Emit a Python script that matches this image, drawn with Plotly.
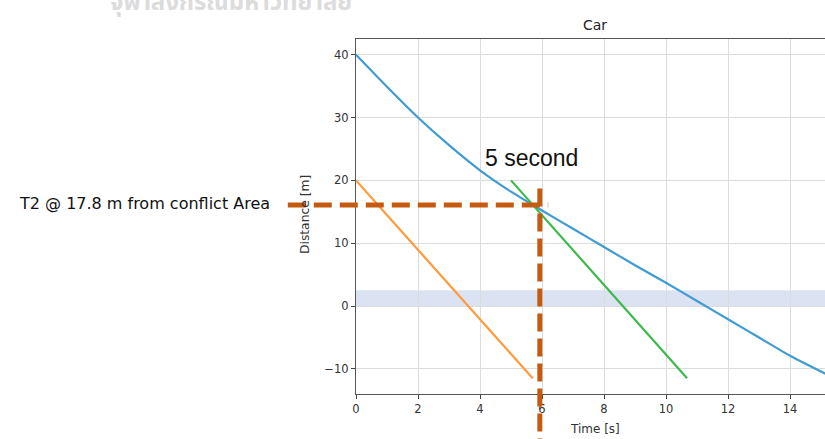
import plotly.graph_objects as go

# ---------------- data ----------------
title_text = "Car"
x_label = "Time [s]"
y_label = "Distance [m]"

car_time = [0, 1, 2, 3, 4, 5, 6, 7, 8, 9, 10, 11, 12, 13, 14, 15.2]
car_distance = [40, 34.9, 30.0, 25.6, 21.6, 18.2, 15.2, 12.3, 9.4, 6.5, 3.7, 0.8, -2.1, -5.0, -7.9, -10.9]

t1_time = [0, 5.7]
t1_distance = [20, -11.5]

t2_time = [5.0, 10.68]
t2_distance = [20, -11.5]

conflict_band = [0, 2.5]

x_ticks = [0, 2, 4, 6, 8, 10, 12, 14]
y_ticks = [-10, 0, 10, 20, 30, 40]

marker_time = 5.93        # vertical dashed marker (s)
marker_distance = 16.1    # horizontal dashed marker (m)
h_marker_span = [-2.2, 6.2]     # time extent of horizontal marker
v_marker_span = [18.7, -21.5]   # distance extent of vertical marker

label_t2 = "T2 @ 17.8 m from conflict Area"
label_time = "5 second"
watermark = "จุฬาลงกรณ์มหาวิทยาลัย"

# ---------------- geometry ----------------
W, H = 825, 439
L, T, B, R = 356, 39, 45, 0
x_range = [0, (W - L - R) / 31.0]
y_range = [-14.0, 42.5]


def px_x(t):
    return (t - x_range[0]) / (x_range[1] - x_range[0])


def px_y(d):
    return (d - y_range[0]) / (y_range[1] - y_range[0])


def paper_from_pixel_x(p):
    return (p - L) / (W - L - R)


def paper_from_pixel_y(p):
    return (H - B - p) / (H - T - B)


fig = go.Figure()

fig.add_trace(go.Scatter(x=car_time, y=car_distance, mode="lines",
                         line=dict(color="#3f9bd2", width=2.2, shape="spline", smoothing=0.6),
                         showlegend=False, hoverinfo="skip"))
fig.add_trace(go.Scatter(x=t1_time, y=t1_distance, mode="lines",
                         line=dict(color="#ff9a3a", width=2.2),
                         showlegend=False, hoverinfo="skip"))
fig.add_trace(go.Scatter(x=t2_time, y=t2_distance, mode="lines",
                         line=dict(color="#3cba4c", width=2.2),
                         showlegend=False, hoverinfo="skip"))

shapes = [
    dict(type="rect", xref="paper", yref="y", x0=0, x1=1,
         y0=conflict_band[0], y1=conflict_band[1],
         fillcolor="rgba(176,194,228,0.45)", line=dict(width=0), layer="below"),
    dict(type="line", xref="paper", yref="paper",
         x0=px_x(h_marker_span[0]), x1=px_x(h_marker_span[1]),
         y0=px_y(marker_distance), y1=px_y(marker_distance),
         line=dict(color="#c55a11", width=5, dash="18px,8px")),
    dict(type="line", xref="paper", yref="paper",
         x0=px_x(marker_time), x1=px_x(marker_time),
         y0=px_y(v_marker_span[0]), y1=px_y(v_marker_span[1]),
         line=dict(color="#c55a11", width=5, dash="18px,7px")),
]

tick_font = dict(family="DejaVu Sans", size=11.5, color="#333333")

annotations = [
    dict(text=title_text, xref="paper", yref="paper",
         x=paper_from_pixel_x(595), y=paper_from_pixel_y(25),
         showarrow=False, font=dict(family="DejaVu Sans", size=14, color="#222"),
         xanchor="center", yanchor="middle"),
    dict(text=x_label, xref="paper", yref="paper",
         x=paper_from_pixel_x(595), y=paper_from_pixel_y(429),
         showarrow=False, font=dict(family="DejaVu Sans", size=12, color="#333333"),
         xanchor="center", yanchor="middle"),
    dict(text=y_label, xref="paper", yref="paper",
         x=paper_from_pixel_x(305), y=paper_from_pixel_y(215),
         showarrow=False, textangle=-90,
         font=dict(family="DejaVu Sans", size=12.3, color="#333333"),
         xanchor="center", yanchor="middle"),
    dict(text=label_t2, xref="paper", yref="paper",
         x=paper_from_pixel_x(272), y=paper_from_pixel_y(203),
         showarrow=False, font=dict(family="DejaVu Sans", size=16, color="#111"),
         xanchor="right", yanchor="middle"),
    dict(text=label_time, xref="paper", yref="paper",
         x=paper_from_pixel_x(483), y=paper_from_pixel_y(158),
         showarrow=False, font=dict(family="Liberation Sans, Arial", size=23, color="#111"),
         xanchor="left", yanchor="middle"),
    dict(text="<b>" + watermark + "</b>", xref="paper", yref="paper",
         x=paper_from_pixel_x(231), y=paper_from_pixel_y(3),
         showarrow=False, font=dict(family="Noto Sans Thai, Noto Sans, DejaVu Sans", size=24, color="#dcdcdc"),
         xanchor="center", yanchor="middle"),
]

fig.update_layout(
    width=W, height=H,
    margin=dict(l=L, r=R, t=T, b=B, pad=0),
    paper_bgcolor="white", plot_bgcolor="white",
    shapes=shapes, annotations=annotations,
    xaxis=dict(range=x_range, tickvals=x_ticks, ticks="outside", ticklen=4, tickwidth=1,
               tickcolor="#444", showline=True, linecolor="#555", linewidth=1.3, mirror=True,
               showgrid=True, gridcolor="#dcdcdc", gridwidth=1.2, zeroline=False,
               tickfont=tick_font),
    yaxis=dict(range=y_range, tickvals=y_ticks, ticks="outside", ticklen=4, tickwidth=1,
               tickcolor="#444", showline=True, linecolor="#555", linewidth=1.3,
               showgrid=True, gridcolor="#dcdcdc", gridwidth=1.2, zeroline=False,
               tickfont=tick_font),
)

fig.write_html("out.html", config={"displayModeBar": False},
               post_script="document.body.style.margin='0';document.body.style.overflow='hidden';")
